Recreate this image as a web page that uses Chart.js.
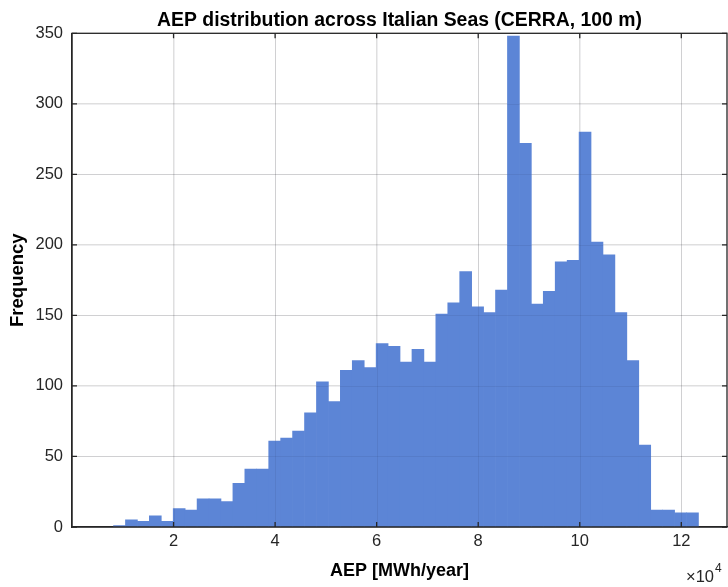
<!DOCTYPE html>
<html>
<head>
<meta charset="utf-8">
<script src="https://cdn.jsdelivr.net/npm/chart.js@4/dist/chart.umd.min.js"></script>
<style>
    html, body { margin: 0; padding: 0; background: #ffffff; }
    #wrap { width: 728px; height: 587px; }
</style>
</head>
<body>
<div id="wrap"><canvas id="graficoAEP" width="728" height="587"></canvas></div>
<script>
// ---- dados do histograma (AEP em MWh/ano)

const binStart = 8180;      // borda esquerda do primeiro bin
const binWidth = 2351;      // largura de cada bin
const frequencias = [
    1, 5, 4, 8, 4, 13, 12, 20, 20, 18,
    31, 41, 41, 61, 63, 68, 81, 103, 89, 111,
    118, 113, 130, 128, 117, 126, 117, 151, 159, 181,
    156, 152, 168, 348, 272, 158, 167, 188, 189, 280,
    202, 193, 152, 118, 58, 12, 12, 10, 10
];
const xTicks = [20000, 40000, 60000, 80000, 100000, 120000];
const yTicks = [0, 50, 100, 150, 200, 250, 300, 350];
const titulo = 'AEP distribution across Italian Seas (CERRA, 100 m)';

const corEixo = '#262626';
const corGrade = 'rgba(38, 38, 38, 0.15)';
const fonte = "'Liberation Sans', Arial, Helvetica, sans-serif";

// centro de cada bin no eixo x
const pontos = frequencias.map((f, i) => ({ x: binStart + binWidth * (i + 0.5), y: f }));

Chart.defaults.font.family = fonte;

// caixa em volta do gráfico, ticks para dentro, grade por cima das barras e título
const caixaPlugin = {
    id: 'caixaMatlab',
    afterDatasetsDraw(chart) {
        const { ctx, chartArea: a, scales: { x, y } } = chart;
        ctx.save();
        ctx.strokeStyle = 'rgba(20, 20, 40, 0.07)';
        ctx.lineWidth = 1;
        ctx.beginPath();
        xTicks.forEach(v => {
            const px = Math.round(x.getPixelForValue(v)) + 0.5;
            ctx.moveTo(px, a.top); ctx.lineTo(px, a.bottom);
        });
        yTicks.forEach(v => {
            const py = Math.round(y.getPixelForValue(v)) + 0.5;
            ctx.moveTo(a.left, py); ctx.lineTo(a.right, py);
        });
        ctx.stroke();
        ctx.restore();
    },
    afterDraw(chart) {
        const { ctx, chartArea: a, scales: { x, y } } = chart;
        ctx.save();
        ctx.strokeStyle = corEixo;
        ctx.lineWidth = 1.3;
        ctx.strokeRect(a.left, a.top, a.right - a.left, a.bottom - a.top);

        // ticks para dentro
        const tam = 5;
        ctx.beginPath();
        xTicks.forEach(v => {
            const px = x.getPixelForValue(v);
            ctx.moveTo(px, a.bottom); ctx.lineTo(px, a.bottom - tam);
            ctx.moveTo(px, a.top); ctx.lineTo(px, a.top + tam);
        });
        yTicks.forEach(v => {
            const py = y.getPixelForValue(v);
            ctx.moveTo(a.left, py); ctx.lineTo(a.left + tam, py);
            ctx.moveTo(a.right, py); ctx.lineTo(a.right - tam, py);
        });
        ctx.stroke();

        // título centrado na área do gráfico
        ctx.fillStyle = '#000000';
        ctx.textAlign = 'center';
        ctx.textBaseline = 'alphabetic';
        ctx.font = 'bold 19.4px ' + fonte;
        ctx.fillText(titulo, (a.left + a.right) / 2, 26);

        // multiplicador do eixo x
        ctx.fillStyle = corEixo;
        ctx.textAlign = 'right';
        ctx.font = '16.5px ' + fonte;
        ctx.fillText('\u00d710', 714, 582);
        ctx.textAlign = 'left';
        ctx.font = '12px ' + fonte;
        ctx.fillText('4', 715, 572);
        ctx.restore();
    }
};

const ctx = document.getElementById('graficoAEP').getContext('2d');
let graficoAEP = new Chart(ctx, {
    type: 'bar',
    data: {
        datasets: [{
            label: 'AEP',
            data: pontos,
            backgroundColor: 'rgb(92, 133, 214)',
            borderWidth: 0,
            barPercentage: 1,
            categoryPercentage: 1,
            grouped: false
        }]
    },
    options: {
        responsive: false,
        animation: false,
        layout: { padding: { top: 33.3, right: 1, left: 0, bottom: 0 } },
        plugins: {
            legend: { display: false },
            tooltip: { enabled: false },
            title: { display: false }
        },
        scales: {
            x: {
                type: 'linear',
                position: 'bottom',
                offset: false,
                min: 0,
                max: 129000,
                afterBuildTicks: scale => { scale.ticks = xTicks.map(v => ({ value: v })); },
                afterFit: scale => { scale.height = 60; },
                ticks: {
                    color: corEixo,
                    font: { size: 16.5 },
                    padding: 5,
                    maxRotation: 0,
                    callback: v => v / 10000
                },
                grid: { color: corGrade, drawTicks: false, offset: false },
                border: { display: true, color: corEixo, width: 1.3 },
                title: {
                    display: true,
                    text: 'AEP [MWh/year]',
                    color: '#000000',
                    font: { size: 18, weight: 'bold' },
                    padding: { top: 0, bottom: 5 }
                }
            },
            y: {
                min: 0,
                max: 350,
                afterBuildTicks: scale => { scale.ticks = yTicks.map(v => ({ value: v })); },
                afterFit: scale => { scale.width = 72; },
                ticks: {
                    color: corEixo,
                    font: { size: 16.5 },
                    padding: 9
                },
                grid: { color: corGrade, drawTicks: false },
                border: { display: true, color: corEixo, width: 1.3 },
                title: {
                    display: true,
                    text: 'Frequency',
                    color: '#000000',
                    font: { size: 18.5, weight: 'bold' },
                    padding: { top: 7, bottom: 0 }
                }
            }
        }
    },
    plugins: [caixaPlugin]
});
</script>
</body>
</html>
